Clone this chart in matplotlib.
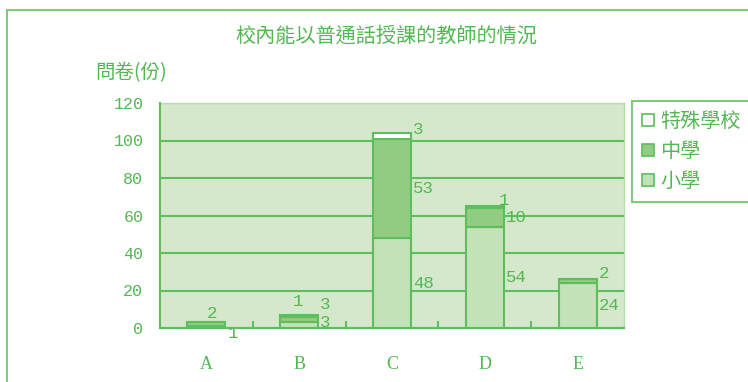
#!/usr/bin/env python3
import matplotlib
matplotlib.use('Agg')
import matplotlib.pyplot as plt
from matplotlib.patches import Rectangle, Patch
import numpy as np

# data
categories = ['A', 'B', 'C', 'D', 'E']
primary    = [1, 3, 48, 54, 24]   # 小學
secondary  = [2, 3, 53, 10, 2]    # 中學
special    = [0, 1, 3, 1, 0]      # 特殊學校
series_names = ['小學', '中學', '特殊學校']
yticks = [0, 20, 40, 60, 80, 100, 120]

# label nudges in pixels (Excel moved a few to avoid overlaps)
nudges = {
    (0, 0): (2, -6), (0, 1): (-19, 11),
    (1, 0): (2, 3), (1, 1): (2, 15), (1, 2): (-26, 14),
    (2, 2): (2, 6),
    (3, 2): (-5, 7),
    (4, 1): (2, 8),
}

green   = '#52b852'
edge    = '#5cbf5c'
bg      = '#d5e8cc'
fills   = ['#c4e2b8', '#92cc80', '#ffffff']
cjk     = ['Noto Sans CJK TC', 'DejaVu Sans']
mono    = 'Liberation Mono'

fig = plt.figure(figsize=(7.48, 3.82), dpi=100)
ax = fig.add_axes([160 / 748, 1 - 328 / 382, 464 / 748, 225 / 382])
ax.set_facecolor(bg)

x = np.arange(len(categories))
width = 0.41
bottom = np.zeros(len(categories))
for si, vals in enumerate([primary, secondary, special]):
    vals = np.array(vals, dtype=float)
    ax.bar(x, vals, width, bottom=bottom, color=fills[si],
           edgecolor=edge, linewidth=1.5, zorder=3)
    for ci, v in enumerate(vals):
        if v <= 0:
            continue
        dx, dy = nudges.get((ci, si), (2, 0))
        ax.annotate(f'{int(v)}', xy=(x[ci] + width / 2, bottom[ci] + v / 2),
                    xytext=(dx, dy), textcoords='offset pixels',
                    ha='left', va='center', color=green,
                    fontsize=12.5, family=mono, zorder=4)
    bottom += vals

ax.set_xlim(-0.5, len(categories) - 0.5)
ax.set_ylim(0, 120)
ax.set_yticks(yticks)
ax.set_yticklabels([str(t) for t in yticks], family=mono, fontsize=12, color=green)
ax.set_xticks(x)
ax.set_xticklabels(categories, family='Liberation Serif', fontsize=13, color=green)
ax.tick_params(axis='x', length=0, pad=20)
ax.tick_params(axis='y', length=0, pad=12)
ax.set_xticks(np.arange(0.5, len(categories) - 0.5, 1), minor=True)
ax.tick_params(axis='x', which='minor', direction='in', length=5, color=edge, width=1.5)
ax.grid(axis='y', color=edge, linewidth=1.5, zorder=1)

for s in ['top', 'right']:
    ax.spines[s].set_color('#b8dcb0')
    ax.spines[s].set_linewidth(1)
for s in ['left', 'bottom']:
    ax.spines[s].set_color(edge)
    ax.spines[s].set_linewidth(1.5)
    ax.spines[s].set_zorder(5)

fig.text(386 / 748, 1 - 36 / 382, '校內能以普通話授課的教師的情況',
         ha='center', va='center', family=cjk, fontsize=14.5, color=green)
fig.text(131 / 748, 1 - 73 / 382, '問卷(份)',
         ha='center', va='center', family=cjk, fontsize=14, color=green)

handles = [Patch(facecolor=fills[i], edgecolor=edge, linewidth=1.2)
           for i in [2, 1, 0]]
labels = [series_names[i] for i in [2, 1, 0]]
leg = fig.legend(handles, labels, loc='upper left',
                 bbox_to_anchor=(632 / 748, 1 - 101 / 382),
                 prop={'family': cjk, 'size': 14.5}, labelcolor=green,
                 frameon=True, fancybox=False, handlelength=0.6,
                 handleheight=0.6, handletextpad=0.3, labelspacing=0.45,
                 borderpad=0.5, borderaxespad=0)
leg.get_frame().set_edgecolor(edge)
leg.get_frame().set_linewidth(1.5)

# outer chart border (runs off the right and bottom of the image)
fig.patches.append(Rectangle((7 / 748, -0.1), 1.2, 1.1 - 10 / 382,
                             transform=fig.transFigure, fill=False,
                             edgecolor='#7ccc7c', linewidth=1.5))

fig.savefig('out.png', dpi=100)
